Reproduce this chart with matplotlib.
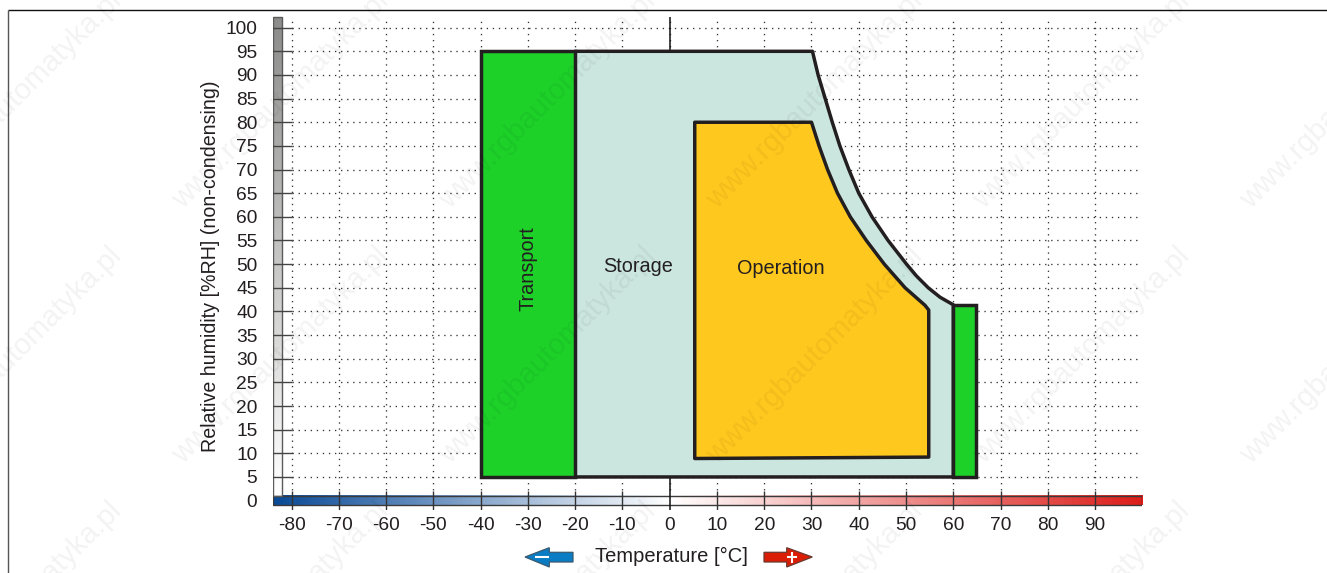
"""Environmental limits chart: temperature vs relative humidity."""

import matplotlib.pyplot as plt
import numpy as np
from matplotlib import patches
from matplotlib.colors import LinearSegmentedColormap, TwoSlopeNorm

plt.rcParams["font.family"] = ["Liberation Sans", "DejaVu Sans"]
plt.rcParams["axes.unicode_minus"] = False

TEMP_TICKS = [-80, -70, -60, -50, -40, -30, -20, -10, 0, 10, 20, 30, 40, 50, 60, 70, 80, 90]
RH_TICKS = list(range(0, 105, 5))

# storage / transport envelope, upper right edge
STORAGE_T = [30.2, 31.4, 32.9, 34.4, 36.0, 37.9, 40.0, 42.8, 46.2, 50.1, 52.2, 54.7, 57.2, 60.0]
STORAGE_RH = [95.0, 90.0, 85.0, 80.0, 75.0, 70.0, 65.0, 60.0, 55.0, 50.0, 47.5, 45.0, 43.0, 41.4]

# operation area, upper right edge
OPERATION_T = [30.0, 31.6, 33.4, 35.5, 38.2, 41.6, 45.4, 49.8, 54.0, 54.8]
OPERATION_RH = [80.0, 75.0, 70.0, 65.0, 60.0, 55.0, 50.0, 45.0, 41.3, 40.3]

TRANSPORT_LOW_T = [-40, -20]
TRANSPORT_HIGH_T = [60, 64.8]
TRANSPORT_LOW_RH = 95
TRANSPORT_HIGH_RH = 41.4
RH_FLOOR = 5
OPERATION_LEFT_T = 5.3
OPERATION_BOTTOM_RH = [8.9, 9.2]

GREEN = "#1DD129"
PALE = "#CBE6DF"
ORANGE = "#FFC81E"
EDGE = "#231F20"
TEXT = "#231F20"
W, H = 1327, 573

fig = plt.figure(figsize=(W / 100, H / 100), dpi=100)

# axes mapped so that T and RH land on the same pixels as the reference
x0, x1 = 272.6, 1142.4
y_top, y_bot = 13.0, 510.3
ax = fig.add_axes([x0 / W, 1 - y_bot / H, (x1 - x0) / W, (y_bot - y_top) / H])
ax.set_facecolor("none")
for spine in ax.spines.values():
    spine.set_visible(False)

# grid
dots = (0, (1.0, 3.6))
ax.hlines(RH_TICKS[1:], -80, 100, color="#333333", lw=0.95, linestyle=dots, zorder=1)
ax.vlines(TEMP_TICKS, 1, 101.7, color="#333333", lw=0.95, linestyle=dots, zorder=1)

# gradient scales
temp_cmap = LinearSegmentedColormap.from_list("temp", ["#0A4A96", "#FFFFFF", "#DC1E1A"])
ax.imshow(np.linspace(-84, 100, 600).reshape(1, -1), extent=(-84, 100, -1, 1), aspect="auto",
          cmap=temp_cmap, norm=TwoSlopeNorm(vmin=-84, vcenter=0, vmax=100), zorder=2)
ax.add_patch(patches.Rectangle((-84, -1), 184, 2, fill=False, ec="#3A3A3A", lw=1.0, zorder=3))

rh_cmap = LinearSegmentedColormap.from_list("rh", ["#FFFFFF", "#8C8C8A"])
ax.imshow(np.linspace(0, 1, 300)[::-1].reshape(-1, 1), extent=(-84, -82, 1, 102.2), aspect="auto",
          cmap=rh_cmap, zorder=2)
ax.add_patch(patches.Rectangle((-84, 1), 2, 101.2, fill=False, ec="#5A5A5A", lw=1.0, zorder=3))

# tick marks
ax.vlines([t for t in TEMP_TICKS if t != 0], -2, 2, color="#333333", lw=1.0, zorder=4)
ax.hlines(RH_TICKS[1:], -85, -80, color="#444444", lw=1.0, zorder=4)
ax.vlines(0, -2, RH_FLOOR, color="#111111", lw=1.1, zorder=4)
ax.vlines(0, TRANSPORT_LOW_RH, 102.2, color="#111111", lw=1.1, zorder=4)

# storage envelope
storage_x = [TRANSPORT_LOW_T[1], *STORAGE_T, TRANSPORT_HIGH_T[0]]
storage_y = [TRANSPORT_LOW_RH, *STORAGE_RH, RH_FLOOR]
ax.fill(storage_x + [TRANSPORT_LOW_T[1]], storage_y + [RH_FLOOR], fc=PALE, ec=EDGE, lw=2.5,
        joinstyle="round", zorder=5)

# transport blocks
ax.fill([TRANSPORT_LOW_T[0], TRANSPORT_LOW_T[0], TRANSPORT_LOW_T[1], TRANSPORT_LOW_T[1]],
        [RH_FLOOR, TRANSPORT_LOW_RH, TRANSPORT_LOW_RH, RH_FLOOR],
        fc=GREEN, ec=EDGE, lw=2.5, joinstyle="miter", zorder=6)
ax.fill([TRANSPORT_HIGH_T[0], TRANSPORT_HIGH_T[0], TRANSPORT_HIGH_T[1], TRANSPORT_HIGH_T[1]],
        [RH_FLOOR, TRANSPORT_HIGH_RH, TRANSPORT_HIGH_RH, RH_FLOOR],
        fc=GREEN, ec=EDGE, lw=2.5, joinstyle="miter", zorder=6)

# operation area
ax.fill([OPERATION_LEFT_T, OPERATION_LEFT_T, *OPERATION_T, OPERATION_T[-1]],
        [OPERATION_BOTTOM_RH[0], OPERATION_RH[0], *OPERATION_RH, OPERATION_BOTTOM_RH[1]],
        fc=ORANGE, ec=EDGE, lw=2.5, joinstyle="round", zorder=7)

ax.set_xlim(-84, 100)
ax.set_ylim(-2.05, 103.1)
ax.set_xticks(TEMP_TICKS)
ax.set_yticks(RH_TICKS)
ax.tick_params(axis="both", length=0, labelsize=13.8, labelcolor=TEXT)
ax.tick_params(axis="x", pad=5)
ax.tick_params(axis="y", pad=11)

# pixel overlay for frame, labels, arrows and watermark
ov = fig.add_axes([0, 0, 1, 1])
ov.set_xlim(0, W)
ov.set_ylim(H, 0)
ov.axis("off")
ov.patch.set_alpha(0)
ov.plot([8, W], [10.3, 10.3], color="#111111", lw=1.0, solid_capstyle="butt")
ov.plot([8.3, 8.3], [10, H], color="#555555", lw=1.0, solid_capstyle="butt")

ov.text(211, 266, "Relative humidity [%RH] (non-condensing)", rotation=90, ha="center", va="center",
        fontsize=14.1, color=TEXT)
ov.text(671, 556, "Temperature [°C]", ha="center", va="center", fontsize=14.5, color=TEXT)
ov.text(528.5, 269, "Transport", rotation=90, ha="center", va="center", fontsize=14.3, color=TEXT)
ov.text(638.5, 267, "Storage", ha="center", va="center", fontsize=14.3, color=TEXT)
ov.text(781, 269, "Operation", ha="center", va="center", fontsize=14.3, color=TEXT)

ov.add_patch(patches.Polygon([(525, 557), (549.3, 547.7), (549.3, 552.3), (573, 552.3),
                              (573, 562), (549.3, 562), (549.3, 567)],
                             closed=True, fc="#0A7CC4", ec="#3A5A70", lw=0.9))
ov.add_patch(patches.Polygon([(812.3, 557), (786.7, 547.7), (786.7, 552.3), (764, 552.3),
                              (764, 562), (786.7, 562), (786.7, 567)],
                             closed=True, fc="#D91E05", ec="#6A3A30", lw=0.9))
ov.plot([535, 549], [557.3, 557.3], color="white", lw=1.5, solid_capstyle="butt")
ov.plot([787, 797], [557.3, 557.3], color="white", lw=1.5, solid_capstyle="butt")
ov.plot([792, 792], [552, 562.5], color="white", lw=1.5, solid_capstyle="butt")

# tiled watermark
for x_end in (120, 387, 654, 921, 1188, 1455):
    for y_end in (-5, 250, 505, 760):
        ov.text(x_end - 106, y_end + 106, "www.rgbautomatyka.pl", rotation=45, rotation_mode="anchor",
                ha="center", va="center", fontsize=21, color="black", alpha=0.05, clip_on=True)

fig.savefig("out.png", dpi=100)
plt.close(fig)
